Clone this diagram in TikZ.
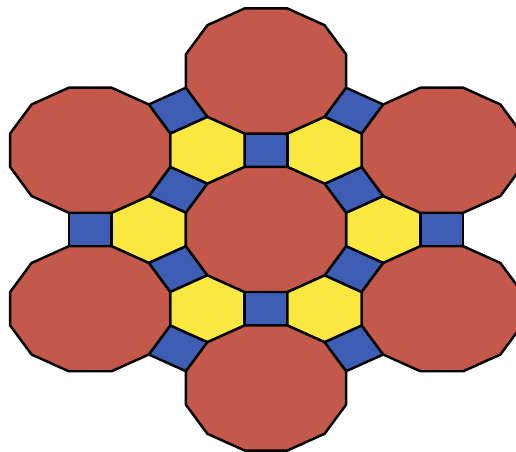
\documentclass[tikz,border=0pt]{standalone}
\usepackage{tikz}
\definecolor{dodecred}{RGB}{196,88,74}
\definecolor{quadblue}{RGB}{62,94,182}
\definecolor{hexyellow}{RGB}{250,232,64}
\tikzset{dodec/.style={draw=black,fill=dodecred,line width=1.4pt,line join=round}  }
\tikzset{hexa/.style={draw=black,fill=hexyellow,line width=1.4pt,line join=round}  }
\tikzset{quad/.style={draw=black,fill=quadblue,line width=1.4pt,line join=round}  }

\begin{document}
\begin{tikzpicture}
\useasboundingbox (-5.32,-4.45) rectangle (5.00,4.59);
\clip (-5.32,-4.45) rectangle (5.00,4.59);
\begin{scope}[xscale=0.858,yscale=0.67]
  % edge length 1; circumradii of the 12-gon, 6-gon and square
    \def\rd{1.9319};
    \def\rh{1};
    \def\rq{0.7071};

    \foreach \t in {0,60,...,300}
    {
      \pgfmathtruncatemacro{\s}{\t+30};
      \begin{scope}[shift={(\t:2.732)}]
        \draw[hexa] (30:\rh) \foreach \k in {1,...,5} { -- ({30+60*\k}:\rh) } -- cycle;
      \end{scope}
      \begin{scope}[shift={(\s:2.366)}]
        \draw[quad] ({\s+45}:\rq) -- ({\s+135}:\rq) -- ({\s+225}:\rq) -- ({\s+315}:\rq) -- cycle;
      \end{scope}
      \begin{scope}[shift={(\t:4.098)}]
        \draw[quad] ({\t+45}:\rq) -- ({\t+135}:\rq) -- ({\t+225}:\rq) -- ({\t+315}:\rq) -- cycle;
      \end{scope}
    }

    \draw[dodec] (15:\rd) \foreach \k in {1,...,11} { -- ({15+30*\k}:\rd) } -- cycle;
    \foreach \t in {30,90,...,330}
    {
      \begin{scope}[shift={(\t:4.732)}]
        \draw[dodec] (15:\rd) \foreach \k in {1,...,11} { -- ({15+30*\k}:\rd) } -- cycle;
      \end{scope}
    }
\end{scope}
\end{tikzpicture}
\end{document}
